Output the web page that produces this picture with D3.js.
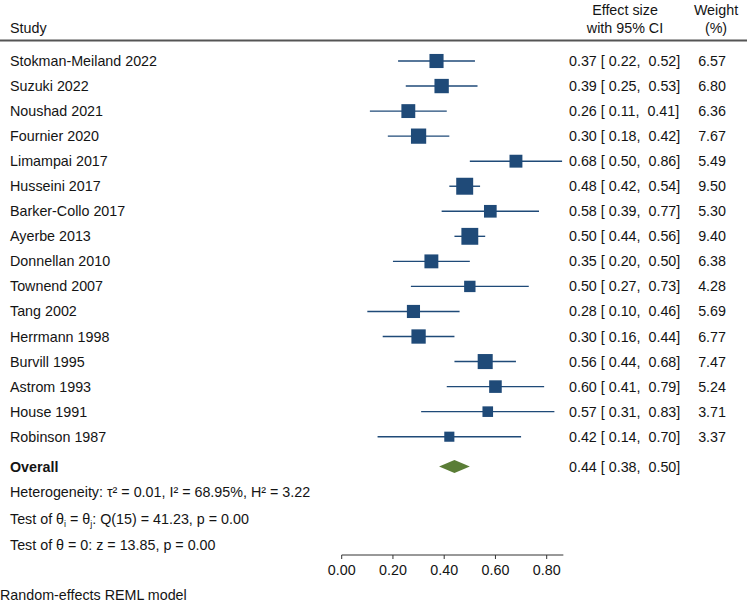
<!DOCTYPE html>
<html><head><meta charset="utf-8">
<script src="https://cdn.jsdelivr.net/npm/d3@7"></script>
<style>body{margin:0;background:#fff}svg{display:block;font-family:"Liberation Sans",Arial,sans-serif}</style>
</head><body><div id="chart"></div>
<script>
const studies = ["Stokman-Meiland 2022","Suzuki 2022","Noushad 2021","Fournier 2020","Limampai 2017","Husseini 2017","Barker-Collo 2017","Ayerbe 2013","Donnellan 2010","Townend 2007","Tang 2002","Herrmann 1998","Burvill 1995","Astrom 1993","House 1991","Robinson 1987"];
const effects = [0.37,0.39,0.26,0.30,0.68,0.48,0.58,0.50,0.35,0.50,0.28,0.30,0.56,0.60,0.57,0.42];
const lower  = [0.22,0.25,0.11,0.18,0.50,0.42,0.39,0.44,0.20,0.27,0.10,0.16,0.44,0.41,0.31,0.14];
const upper  = [0.52,0.53,0.41,0.42,0.86,0.54,0.77,0.56,0.50,0.73,0.46,0.44,0.68,0.79,0.83,0.70];
const weights = [6.57,6.80,6.36,7.67,5.49,9.50,5.30,9.40,6.38,4.28,5.69,6.77,7.47,5.24,3.71,3.37];
const overall = {est:0.44, lo:0.38, hi:0.50};
const ticks = [0,0.2,0.4,0.6,0.8];
const statLines = ["Heterogeneity: τ² = 0.01, I² = 68.95%, H² = 3.22", null, "Test of θ = 0: z = 13.85, p = 0.00"];

const W=750,H=603;
const svg=d3.select("#chart").append("svg").attr("width",W).attr("height",H);
const x=d3.scaleLinear().domain([0,0.8]).range([341.7,546.7]);
const y=d3.scaleLinear().domain([0,15]).range([61,436.7]);
const col="#1f4a78", txt="#141414", fs=14.3;
const fmt=d3.format(".2f");

// header
svg.append("text").attr("x",10).attr("y",33).attr("font-size",fs).attr("fill",txt).text("Study");
svg.append("text").attr("x",625).attr("y",15).attr("text-anchor","middle").attr("font-size",fs).attr("fill",txt).text("Effect size");
svg.append("text").attr("x",625).attr("y",33).attr("text-anchor","middle").attr("font-size",fs).attr("fill",txt).text("with 95% CI");
svg.append("text").attr("x",716).attr("y",15).attr("text-anchor","middle").attr("font-size",fs).attr("fill",txt).text("Weight");
svg.append("text").attr("x",716).attr("y",33).attr("text-anchor","middle").attr("font-size",fs).attr("fill",txt).text("(%)");
svg.append("line").attr("x1",0).attr("x2",747).attr("y1",40.5).attr("y2",40.5).attr("stroke","#555").attr("stroke-width",2);

const rows=svg.append("g").selectAll("g").data(studies.map((s,i)=>({s,i}))).join("g");
rows.append("text").attr("x",10).attr("y",d=>y(d.i)+5).attr("font-size",fs).attr("fill",txt).text(d=>d.s);
rows.append("line").attr("x1",d=>x(lower[d.i])).attr("x2",d=>x(upper[d.i])).attr("y1",d=>y(d.i)).attr("y2",d=>y(d.i)).attr("stroke",col).attr("stroke-width",1.4);
rows.append("rect").attr("fill",col).each(function(d){
  const s=5.5*Math.sqrt(weights[d.i]);
  d3.select(this).attr("x",x(effects[d.i])-s/2).attr("y",y(d.i)-s/2).attr("width",s).attr("height",s);
});
rows.append("text").attr("x",569).attr("y",d=>y(d.i)+5).attr("font-size",fs).attr("fill",txt).style("white-space","pre")
  .text(d=>`${fmt(effects[d.i])} [ ${fmt(lower[d.i])},  ${fmt(upper[d.i])}]`);
rows.append("text").attr("x",726).attr("y",d=>y(d.i)+5).attr("text-anchor","end").attr("font-size",fs).attr("fill",txt).text(d=>fmt(weights[d.i]));

// overall
const oy=466.5;
svg.append("text").attr("x",10).attr("y",oy+5).attr("font-size",fs).attr("font-weight","bold").attr("fill",txt).text("Overall");
svg.append("path").attr("d",`M${x(overall.lo)},${oy}L${x(overall.est)},${oy-6.5}L${x(overall.hi)},${oy}L${x(overall.est)},${oy+6.5}Z`).attr("fill","#5a7d36");
svg.append("text").attr("x",569).attr("y",oy+5).attr("font-size",fs).attr("fill",txt).style("white-space","pre")
  .text(`${fmt(overall.est)} [ ${fmt(overall.lo)},  ${fmt(overall.hi)}]`);

// stats
svg.append("text").attr("x",10).attr("y",497).attr("font-size",fs).attr("fill",txt).text(statLines[0]);
const t2=svg.append("text").attr("x",10).attr("y",523.5).attr("font-size",fs).attr("fill",txt);
t2.append("tspan").text("Test of θ");
t2.append("tspan").attr("dy",3).attr("font-size",9).text("i");
t2.append("tspan").attr("dy",-3).text(" = θ");
t2.append("tspan").attr("dy",3).attr("font-size",9).text("j");
t2.append("tspan").attr("dy",-3).text(": Q(15) = 41.23, p = 0.00");
svg.append("text").attr("x",10).attr("y",550).attr("font-size",fs).attr("fill",txt).text(statLines[2]);

// axis
const ax=svg.append("g").attr("transform","translate(0,555)");
ax.append("line").attr("x1",x(0)).attr("x2",x(0.865)).attr("stroke","#333").attr("stroke-width",1);
ax.selectAll("line.t").data(ticks).join("line").attr("class","t").attr("x1",d=>x(d)).attr("x2",d=>x(d)).attr("y1",0).attr("y2",4).attr("stroke","#333");
ax.selectAll("text").data(ticks).join("text").attr("x",d=>x(d)).attr("y",20).attr("text-anchor","middle").attr("font-size",fs).attr("fill",txt).text(d=>fmt(d));

svg.append("text").attr("x",0).attr("y",600).attr("font-size",fs).attr("fill",txt).text("Random-effects REML model");
</script></body></html>
